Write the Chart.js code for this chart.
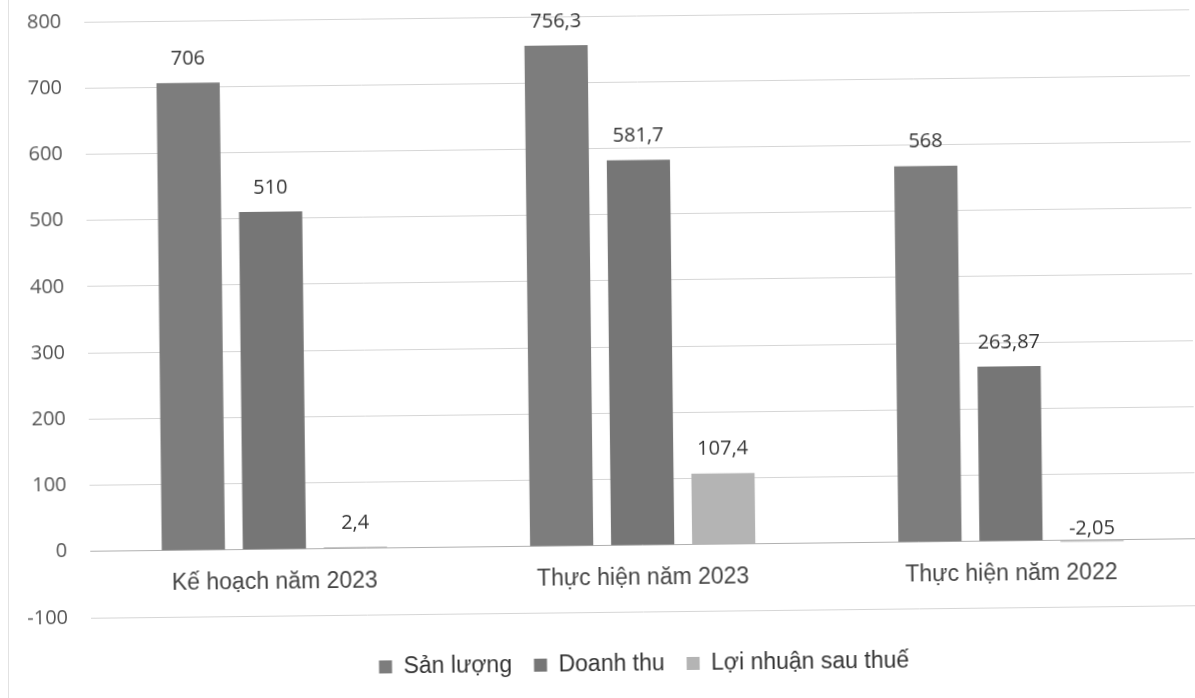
<!DOCTYPE html>
<html lang="vi">
<head>
<meta charset="utf-8">
<title>Kế hoạch và thực hiện</title>
<script src="https://cdn.jsdelivr.net/npm/chart.js@4/dist/chart.umd.min.js"></script>
<style>
  html,body{margin:0;padding:0;background:#fff;overflow:hidden;}
  #wrap{width:1195px;height:698px;position:relative;}
  /* faint frame edge of the scanned chart */
  #wrap::before{content:"";position:absolute;left:8px;top:0;bottom:0;border-left:1px solid #e2e2e2;}
  /* the source is a slightly skewed scan */
  #c{transform:rotate(-0.65deg);}
</style>
</head>
<body>
<div id="wrap"><canvas id="c"></canvas></div>
<script>
// data
const categories = ['Kế hoạch năm 2023', 'Thực hiện năm 2023', 'Thực hiện năm 2022'];
const sanLuong = [706, 756.3, 568];
const doanhThu = [510, 581.7, 263.87];
const loiNhuan = [2.4, 107.4, -2.05];
const seriesNames = ['Sản lượng', 'Doanh thu', 'Lợi nhuận sau thuế'];
const seriesColors = ['#7d7d7d', '#767676', '#b4b4b4'];
const yTicks = [-100, 0, 100, 200, 300, 400, 500, 600, 700, 800];

// vi-VN style number: comma decimal
function fmt(v){ return String(v).replace('.', ','); }

// value labels above each bar
const valueLabels = {
  id: 'valueLabels',
  afterDatasetsDraw(chart){
    const ctx = chart.ctx;
    ctx.save();
    ctx.font = '20px "Open Sans", sans-serif';
    ctx.fillStyle = '#333';
    ctx.textAlign = 'center';
    ctx.textBaseline = 'middle';
    chart.data.datasets.forEach((ds, i)=>{
      chart.getDatasetMeta(i).data.forEach((bar, j)=>{
        const v = ds.data[j];
        const top = Math.min(bar.y, bar.base);
        const off = v < 0 ? 12 : 24;
        ctx.fillText(fmt(v), bar.x, top - off);
      });
    });
    ctx.restore();
  }
};

new Chart(document.getElementById('c'), {
  type: 'bar',
  data: {
    labels: categories,
    datasets: [
      {label: seriesNames[0], data: sanLuong, backgroundColor: seriesColors[0]},
      {label: seriesNames[1], data: doanhThu, backgroundColor: seriesColors[1]},
      {label: seriesNames[2], data: loiNhuan, backgroundColor: seriesColors[2]}
    ]
  },
  options: {
    responsive: true, maintainAspectRatio: false, animation: false,
    layout: {padding: {top: 16, right: 2, bottom: 12, left: 0}},
    datasets: {bar: {categoryPercentage: 0.66, barPercentage: 0.78}},
    plugins: {
      tooltip: {enabled: false},
      legend: {
        position: 'bottom',
        fullSize: false,
        // empty title only used as spacer above the legend row
        title: {display: true, text: '', font: {size: 10}, padding: {top: 7, bottom: 0}},
        labels: {
          color: '#333', boxWidth: 13, boxHeight: 13, padding: 22,
          font: {family: '"Liberation Sans", Arial, sans-serif', size: 23}
        }
      }
    },
    scales: {
      x: {
        position: {y: 0},
        grid: {display: false},
        border: {display: false},
        ticks: {color: '#444', padding: 11, font: {family: '"Liberation Sans", Arial, sans-serif', size: 23}}
      },
      y: {
        min: -100, max: 800,
        afterBuildTicks: axis => { axis.ticks = yTicks.map(v => ({value: v})); },
        afterFit: axis => { axis.width = 88; axis.paddingTop = 0; axis.paddingBottom = 0; },
        grid: {
          drawTicks: false,
          color: ctx => ctx.tick && ctx.tick.value === 0 ? '#b0b0b0' : '#d6d6d6',
          lineWidth: 1
        },
        border: {display: false},
        ticks: {color: '#555', padding: 23, font: {family: '"Open Sans", sans-serif', size: 20}}
      }
    }
  },
  plugins: [valueLabels]
});
</script>
</body>
</html>
